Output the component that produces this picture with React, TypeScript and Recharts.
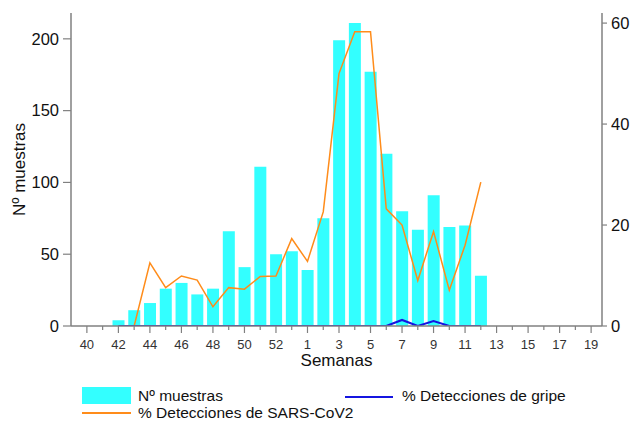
import React from 'react';
import { ComposedChart, Bar, Line, XAxis, YAxis } from 'recharts';

const weeks = [
  '40', '41', '42', '43', '44', '45', '46', '47', '48', '49', '50', '51', '52', '53',
  '1', '2', '3', '4', '5', '6', '7', '8', '9', '10', '11', '12', '13', '14', '15', '16', '17', '18', '19'
];

const muestras = [
  null, null, 4, 11, 16, 26, 30, 22, 26, 66, 41, 111, 50, 52,
  39, 75, 199, 211, 177, 120, 80, 67, 91, 69, 70, 35, null, null, null, null, null, null, null
];

const sarsCov2 = [
  null, null, null, 0, 12.5, 7.6, 9.9, 9.1, 3.8, 7.6, 7.3, 9.8, 9.9, 17.3,
  12.8, 22.6, 50, 58.3, 58.3, 23.2, 20, 9.0, 18.7, 7.1, 16, 28.5, null, null, null, null, null, null, null
];

const gripe = [
  null, null, 0, 0, 0, 0, 0, 0, 0, 0, 0, 0, 0, 0,
  0, 0, 0, 0, 0, 0, 1.2, 0, 1.0, 0, 0, 0, null, null, null, null, null, null, null
];

const leftTicks = [0, 50, 100, 150, 200];
const rightTicks = [0, 20, 40, 60];

const data = weeks.map((w, i) => ({
  week: w,
  muestras: muestras[i],
  sars: sarsCov2[i],
  gripe: gripe[i],
}));

const FONT = '"Liberation Sans", Arial, sans-serif';
const AXIS = '#808080';

const WeekTick = (props: any) => {
  const { x, y, payload, index } = props;
  const major = index % 2 === 0;
  return (
    <g>
      <line x1={x} x2={x} y1={y} y2={y + (major ? 7 : 4)} stroke={AXIS} strokeWidth={1.2} />
      {major && (
        <text x={x} y={y + 14} dy="0.71em" textAnchor="middle" fontSize={13} fill="#333" fontFamily={FONT}>
          {payload.value}
        </text>
      )}
    </g>
  );
};

const legendText: React.CSSProperties = {
  position: 'absolute',
  fontSize: 15.5,
  lineHeight: '14px',
  color: '#111',
  whiteSpace: 'nowrap',
};

export default function App() {
  return (
    <div style={{ position: 'absolute', left: 0, top: 0, width: 631, height: 427, fontFamily: FONT, background: '#fff' }}>
      <ComposedChart width={631} height={427} data={data} margin={{ top: 13, right: 0, bottom: 56, left: 0 }}>
        <YAxis
          yAxisId="left"
          width={71}
          domain={[0, 218]}
          ticks={leftTicks}
          allowDataOverflow
          axisLine={{ stroke: AXIS, strokeWidth: 1.5 }}
          tickLine={{ stroke: AXIS, strokeWidth: 1.2 }}
          tickSize={8}
          tickMargin={4}
          tick={{ fontSize: 16.5, fill: '#111', fontFamily: FONT }}
          label={{
            value: 'Nº muestras',
            angle: -90,
            position: 'insideLeft',
            offset: 19,
            fontSize: 17,
            fill: '#111',
            fontFamily: FONT,
            style: { textAnchor: 'middle' },
          }}
        />
        <YAxis
          yAxisId="right"
          orientation="right"
          width={29}
          domain={[0, 62]}
          ticks={rightTicks}
          allowDataOverflow
          axisLine={{ stroke: AXIS, strokeWidth: 1.5 }}
          tickLine={{ stroke: AXIS, strokeWidth: 1.2 }}
          tickSize={5}
          tickMargin={4}
          tick={{ fontSize: 16.5, fill: '#111', fontFamily: FONT, textAnchor: 'start' }}
        />
        <XAxis
          dataKey="week"
          interval={0}
          height={45}
          padding={{ left: 8, right: 3 }}
          axisLine={{ stroke: AXIS, strokeWidth: 1.5 }}
          tickLine={false}
          tickSize={0}
          tickMargin={0}
          tick={<WeekTick />}
          label={{ value: 'Semanas', position: 'insideBottom', offset: 5, fontSize: 17, fill: '#111', fontFamily: FONT }}
        />
        <Bar yAxisId="left" dataKey="muestras" fill="#33ffff" barSize={12} isAnimationActive={false} />
        <Line
          yAxisId="right"
          type="linear"
          dataKey="sars"
          stroke="#ff8c1a"
          strokeWidth={1.5}
          dot={false}
          activeDot={false}
          isAnimationActive={false}
        />
        <Line
          yAxisId="right"
          type="linear"
          dataKey="gripe"
          stroke="#1515e0"
          strokeWidth={2}
          dot={false}
          activeDot={false}
          isAnimationActive={false}
        />
      </ComposedChart>

      {/* legend */}
      <div style={{ position: 'absolute', left: 82, top: 387, width: 49, height: 17, background: '#33ffff' }} />
      <div style={{ ...legendText, left: 138, top: 388.5 }}>Nº muestras</div>
      <div style={{ position: 'absolute', left: 345, top: 396, width: 48, height: 2, background: '#1515e0' }} />
      <div style={{ ...legendText, left: 402, top: 388.5 }}>% Detecciones de gripe</div>
      <div style={{ position: 'absolute', left: 82, top: 412, width: 49, height: 2, background: '#ff8c1a' }} />
      <div style={{ ...legendText, left: 138, top: 406 }}>% Detecciones de SARS-CoV2</div>
    </div>
  );
}
